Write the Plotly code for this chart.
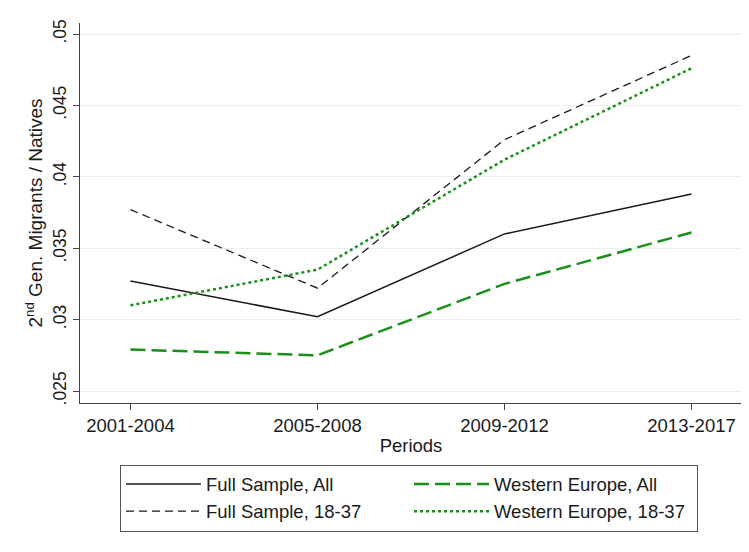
import plotly.graph_objects as go

periods = ["2001-2004", "2005-2008", "2009-2012", "2013-2017"]
full_all = [0.0327, 0.0302, 0.0360, 0.0388]
full_1837 = [0.0377, 0.0322, 0.0426, 0.0485]
we_all = [0.0279, 0.0275, 0.0325, 0.0361]
we_1837 = [0.0310, 0.0335, 0.0412, 0.0476]

y_ticks = [0.025, 0.03, 0.035, 0.04, 0.045, 0.05]
y_ticktext = [".025", ".03", ".035", ".04", ".045", ".05"]

green = "#1a8f1a"
fnt = "Liberation Sans, Arial, sans-serif"

fig = go.Figure()
x = list(range(len(periods)))
fig.add_trace(go.Scatter(x=x, y=full_all, mode="lines", name="Full Sample, All",
                         line=dict(color="#1a1a1a", width=1.5)))
fig.add_trace(go.Scatter(x=x, y=we_all, mode="lines", name="Western Europe, All",
                         line=dict(color=green, width=2.5, dash="15px,6px")))
fig.add_trace(go.Scatter(x=x, y=full_1837, mode="lines", name="Full Sample, 18-37",
                         line=dict(color="#1a1a1a", width=1.3, dash="8px,5px")))
fig.add_trace(go.Scatter(x=x, y=we_1837, mode="lines", name="Western Europe, 18-37",
                         line=dict(color=green, width=2.5, dash="3px,3px")))

# page body has an 8px margin, so the figure is a bit smaller and shifted
fig.update_layout(
    width=741, height=544,
    margin=dict(l=72, r=7, t=15, b=149),
    paper_bgcolor="white", plot_bgcolor="white",
    font=dict(family=fnt, size=19, color="#1a1a1a"),
    legend=dict(orientation="h", x=0.0604, xanchor="left", y=-0.162, yanchor="top",
                entrywidth=198, itemwidth=75, bordercolor="#555555", borderwidth=1,
                font=dict(size=18.5), traceorder="normal", tracegroupgap=0),
)
fig.update_xaxes(
    tickmode="array", tickvals=x, ticktext=periods, range=[-0.27, 3.27],
    showline=True, linecolor="#444444", linewidth=1.3, showgrid=False,
    ticks="outside", ticklen=6, tickcolor="#444444", zeroline=False,
    tickfont=dict(size=18.5), automargin=False,
    title=dict(text="Periods", standoff=3, font=dict(size=18.5)),
)
fig.update_yaxes(
    tickmode="array", tickvals=y_ticks, ticktext=y_ticktext, range=[0.02416, 0.05077],
    tickangle=-90, showline=True, linecolor="#444444", linewidth=1.3,
    showgrid=True, gridcolor="#e6f0f2", gridwidth=1,
    ticks="outside", ticklen=6, tickcolor="#444444", zeroline=False,
    tickfont=dict(size=17.5), automargin=False,
    title=dict(text="2<sup>nd</sup> Gen. Migrants / Natives", standoff=2, font=dict(size=19)),
)

fig.write_html("out.html")
